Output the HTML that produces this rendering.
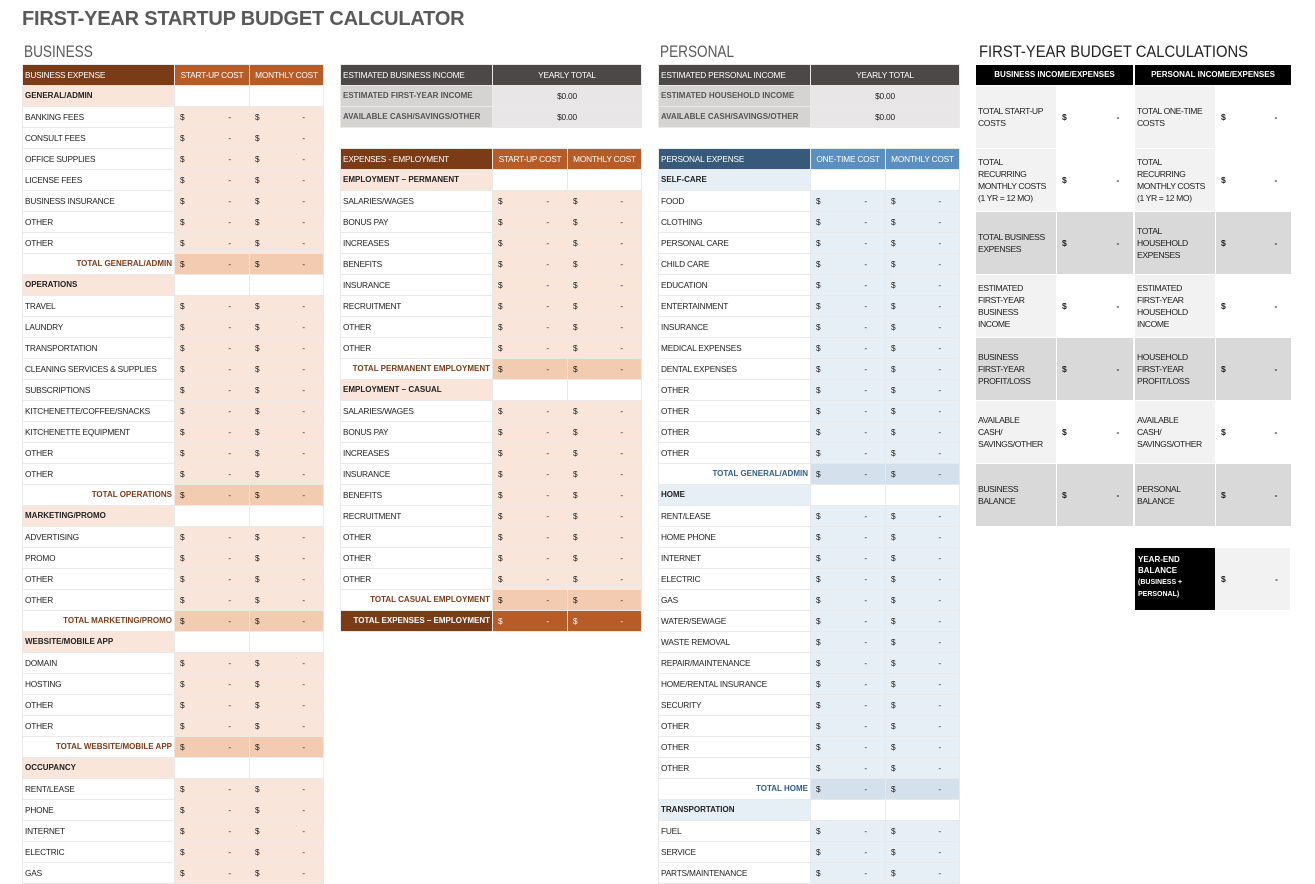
<!DOCTYPE html>
<html><head><meta charset="utf-8"><style>
body{margin:0;width:1315px;height:874px;overflow:hidden;background:#fff;position:relative;font-family:"Liberation Sans",sans-serif}
.ttl{position:absolute;font-weight:bold;color:#595959;font-size:20px;left:22px;top:8px;letter-spacing:-0.2px}
.h2{position:absolute;font-size:17px;color:#595959;top:42px;transform-origin:0 0}
table{position:absolute;border-collapse:collapse;table-layout:fixed;font-family:"Liberation Sans",sans-serif;font-size:8.3px;letter-spacing:-0.2px;color:#222}
td{height:20px;padding:0 2px;border:1px solid #e9e9e9;white-space:nowrap;overflow:hidden;line-height:20px}
td.v{padding-left:5px}
td.v em{font-style:normal;float:right;margin-right:16px}
tr.s td:first-child{font-weight:bold;font-size:8px;letter-spacing:0}
tr.tt td:first-child{font-weight:bold;font-size:8px;letter-spacing:0;text-align:right}
tr.h td{color:#fff}
tr.h td+td{text-align:center}
.b tr td.v{background:#f9e5da}
.b tr.s td:first-child{background:#f9e5da}
.b tr.tt td:first-child{color:#7b3b17}
.b tr.tt td.v{background:#f2cbb1}
.b tr.h td{background:#b85c27}
.b tr.h td:first-child{background:#7b3b17}
.b tr.x td{background:#b85c27;color:#fff}
.b tr.x td:first-child{background:#7b3b17;color:#fff}
.p tr td.v{background:#e6eef6}
.p tr.s td:first-child{background:#e6eef6}
.p tr.tt td:first-child{color:#2f5f8a}
.p tr.tt td.v{background:#d4e0ec}
.p tr.h td{background:#5b8fc1}
.p tr.h td:first-child{background:#375a7a}
.i tr.h td{background:#4d4848}
.i td{background:#e8e6e7;text-align:center}
.i td:first-child{background:#d6d3d3;text-align:left;font-weight:bold;font-size:8px;color:#555;letter-spacing:0}
.i tr.h td:first-child{background:#4d4848;color:#fff;font-weight:normal;font-size:8.3px;letter-spacing:-0.2px}
.c td{height:62px;line-height:12px;border:1px solid #fff;white-space:nowrap;vertical-align:middle;font-size:8.6px;letter-spacing:-0.4px}
.c tr.h td{height:20px;background:#000;color:#fff;font-weight:bold;font-size:8px;letter-spacing:0;text-align:center;line-height:20px}
.c td.l{background:#f2f2f2}
.c td.w{background:#fff;font-weight:bold}
.c tr.g td{background:#d9d9d9}
.c td.w em,.c tr.g td+td em{font-style:normal;float:right;margin-right:12px}
.c tr.g td+td{font-weight:bold;padding-left:5px}
.c td.w{padding-left:5px}
</style></head><body>
<div class="ttl">FIRST-YEAR STARTUP BUDGET CALCULATOR</div>
<div class="h2" style="left:24px;transform:scaleX(0.8)">BUSINESS</div>
<div class="h2" style="left:660px;transform:scaleX(0.8)">PERSONAL</div>
<div class="h2" style="left:979px;color:#222;transform:scaleX(0.87)">FIRST-YEAR BUDGET CALCULATIONS</div>

<table class="b" style="left:22px;top:64px;width:301px">
<col style="width:152px"><col style="width:75px"><col style="width:74px">
<tr class="h"><td>BUSINESS EXPENSE</td><td>START-UP COST</td><td>MONTHLY COST</td></tr>
<tr class="s"><td>GENERAL/ADMIN</td><td></td><td></td></tr>
<tr><td>BANKING FEES</td><td class="v">$<em>-</em></td><td class="v">$<em>-</em></td></tr>
<tr><td>CONSULT FEES</td><td class="v">$<em>-</em></td><td class="v">$<em>-</em></td></tr>
<tr><td>OFFICE SUPPLIES</td><td class="v">$<em>-</em></td><td class="v">$<em>-</em></td></tr>
<tr><td>LICENSE FEES</td><td class="v">$<em>-</em></td><td class="v">$<em>-</em></td></tr>
<tr><td>BUSINESS INSURANCE</td><td class="v">$<em>-</em></td><td class="v">$<em>-</em></td></tr>
<tr><td>OTHER</td><td class="v">$<em>-</em></td><td class="v">$<em>-</em></td></tr>
<tr><td>OTHER</td><td class="v">$<em>-</em></td><td class="v">$<em>-</em></td></tr>
<tr class="tt"><td>TOTAL GENERAL/ADMIN</td><td class="v">$<em>-</em></td><td class="v">$<em>-</em></td></tr>
<tr class="s"><td>OPERATIONS</td><td></td><td></td></tr>
<tr><td>TRAVEL</td><td class="v">$<em>-</em></td><td class="v">$<em>-</em></td></tr>
<tr><td>LAUNDRY</td><td class="v">$<em>-</em></td><td class="v">$<em>-</em></td></tr>
<tr><td>TRANSPORTATION</td><td class="v">$<em>-</em></td><td class="v">$<em>-</em></td></tr>
<tr><td>CLEANING SERVICES &amp; SUPPLIES</td><td class="v">$<em>-</em></td><td class="v">$<em>-</em></td></tr>
<tr><td>SUBSCRIPTIONS</td><td class="v">$<em>-</em></td><td class="v">$<em>-</em></td></tr>
<tr><td>KITCHENETTE/COFFEE/SNACKS</td><td class="v">$<em>-</em></td><td class="v">$<em>-</em></td></tr>
<tr><td>KITCHENETTE EQUIPMENT</td><td class="v">$<em>-</em></td><td class="v">$<em>-</em></td></tr>
<tr><td>OTHER</td><td class="v">$<em>-</em></td><td class="v">$<em>-</em></td></tr>
<tr><td>OTHER</td><td class="v">$<em>-</em></td><td class="v">$<em>-</em></td></tr>
<tr class="tt"><td>TOTAL OPERATIONS</td><td class="v">$<em>-</em></td><td class="v">$<em>-</em></td></tr>
<tr class="s"><td>MARKETING/PROMO</td><td></td><td></td></tr>
<tr><td>ADVERTISING</td><td class="v">$<em>-</em></td><td class="v">$<em>-</em></td></tr>
<tr><td>PROMO</td><td class="v">$<em>-</em></td><td class="v">$<em>-</em></td></tr>
<tr><td>OTHER</td><td class="v">$<em>-</em></td><td class="v">$<em>-</em></td></tr>
<tr><td>OTHER</td><td class="v">$<em>-</em></td><td class="v">$<em>-</em></td></tr>
<tr class="tt"><td>TOTAL MARKETING/PROMO</td><td class="v">$<em>-</em></td><td class="v">$<em>-</em></td></tr>
<tr class="s"><td>WEBSITE/MOBILE APP</td><td></td><td></td></tr>
<tr><td>DOMAIN</td><td class="v">$<em>-</em></td><td class="v">$<em>-</em></td></tr>
<tr><td>HOSTING</td><td class="v">$<em>-</em></td><td class="v">$<em>-</em></td></tr>
<tr><td>OTHER</td><td class="v">$<em>-</em></td><td class="v">$<em>-</em></td></tr>
<tr><td>OTHER</td><td class="v">$<em>-</em></td><td class="v">$<em>-</em></td></tr>
<tr class="tt"><td>TOTAL WEBSITE/MOBILE APP</td><td class="v">$<em>-</em></td><td class="v">$<em>-</em></td></tr>
<tr class="s"><td>OCCUPANCY</td><td></td><td></td></tr>
<tr><td>RENT/LEASE</td><td class="v">$<em>-</em></td><td class="v">$<em>-</em></td></tr>
<tr><td>PHONE</td><td class="v">$<em>-</em></td><td class="v">$<em>-</em></td></tr>
<tr><td>INTERNET</td><td class="v">$<em>-</em></td><td class="v">$<em>-</em></td></tr>
<tr><td>ELECTRIC</td><td class="v">$<em>-</em></td><td class="v">$<em>-</em></td></tr>
<tr><td>GAS</td><td class="v">$<em>-</em></td><td class="v">$<em>-</em></td></tr>
</table>

<table class="i" style="left:340px;top:64px;width:301px">
<col style="width:152px"><col style="width:149px">
<tr class="h"><td>ESTIMATED BUSINESS INCOME</td><td>YEARLY TOTAL</td></tr>
<tr><td>ESTIMATED FIRST-YEAR INCOME</td><td>$0.00</td></tr>
<tr><td>AVAILABLE CASH/SAVINGS/OTHER</td><td>$0.00</td></tr>
</table>

<table class="b" style="left:340px;top:148px;width:301px">
<col style="width:152px"><col style="width:75px"><col style="width:74px">
<tr class="h"><td>EXPENSES - EMPLOYMENT</td><td>START-UP COST</td><td>MONTHLY COST</td></tr>
<tr class="s"><td>EMPLOYMENT – PERMANENT</td><td></td><td></td></tr>
<tr><td>SALARIES/WAGES</td><td class="v">$<em>-</em></td><td class="v">$<em>-</em></td></tr>
<tr><td>BONUS PAY</td><td class="v">$<em>-</em></td><td class="v">$<em>-</em></td></tr>
<tr><td>INCREASES</td><td class="v">$<em>-</em></td><td class="v">$<em>-</em></td></tr>
<tr><td>BENEFITS</td><td class="v">$<em>-</em></td><td class="v">$<em>-</em></td></tr>
<tr><td>INSURANCE</td><td class="v">$<em>-</em></td><td class="v">$<em>-</em></td></tr>
<tr><td>RECRUITMENT</td><td class="v">$<em>-</em></td><td class="v">$<em>-</em></td></tr>
<tr><td>OTHER</td><td class="v">$<em>-</em></td><td class="v">$<em>-</em></td></tr>
<tr><td>OTHER</td><td class="v">$<em>-</em></td><td class="v">$<em>-</em></td></tr>
<tr class="tt"><td>TOTAL PERMANENT EMPLOYMENT</td><td class="v">$<em>-</em></td><td class="v">$<em>-</em></td></tr>
<tr class="s"><td>EMPLOYMENT – CASUAL</td><td></td><td></td></tr>
<tr><td>SALARIES/WAGES</td><td class="v">$<em>-</em></td><td class="v">$<em>-</em></td></tr>
<tr><td>BONUS PAY</td><td class="v">$<em>-</em></td><td class="v">$<em>-</em></td></tr>
<tr><td>INCREASES</td><td class="v">$<em>-</em></td><td class="v">$<em>-</em></td></tr>
<tr><td>INSURANCE</td><td class="v">$<em>-</em></td><td class="v">$<em>-</em></td></tr>
<tr><td>BENEFITS</td><td class="v">$<em>-</em></td><td class="v">$<em>-</em></td></tr>
<tr><td>RECRUITMENT</td><td class="v">$<em>-</em></td><td class="v">$<em>-</em></td></tr>
<tr><td>OTHER</td><td class="v">$<em>-</em></td><td class="v">$<em>-</em></td></tr>
<tr><td>OTHER</td><td class="v">$<em>-</em></td><td class="v">$<em>-</em></td></tr>
<tr><td>OTHER</td><td class="v">$<em>-</em></td><td class="v">$<em>-</em></td></tr>
<tr class="tt"><td>TOTAL CASUAL EMPLOYMENT</td><td class="v">$<em>-</em></td><td class="v">$<em>-</em></td></tr>
<tr class="tt x"><td style="color:#fff">TOTAL EXPENSES – EMPLOYMENT</td><td class="v" style="background:#b85c27">$<em>-</em></td><td class="v" style="background:#b85c27">$<em>-</em></td></tr>
</table>

<table class="i" style="left:658px;top:64px;width:301px">
<col style="width:152px"><col style="width:149px">
<tr class="h"><td>ESTIMATED PERSONAL INCOME</td><td>YEARLY TOTAL</td></tr>
<tr><td>ESTIMATED HOUSEHOLD INCOME</td><td>$0.00</td></tr>
<tr><td>AVAILABLE CASH/SAVINGS/OTHER</td><td>$0.00</td></tr>
</table>

<table class="p" style="left:658px;top:148px;width:301px">
<col style="width:152px"><col style="width:75px"><col style="width:74px">
<tr class="h"><td>PERSONAL EXPENSE</td><td>ONE-TIME COST</td><td>MONTHLY COST</td></tr>
<tr class="s"><td>SELF-CARE</td><td></td><td></td></tr>
<tr><td>FOOD</td><td class="v">$<em>-</em></td><td class="v">$<em>-</em></td></tr>
<tr><td>CLOTHING</td><td class="v">$<em>-</em></td><td class="v">$<em>-</em></td></tr>
<tr><td>PERSONAL CARE</td><td class="v">$<em>-</em></td><td class="v">$<em>-</em></td></tr>
<tr><td>CHILD CARE</td><td class="v">$<em>-</em></td><td class="v">$<em>-</em></td></tr>
<tr><td>EDUCATION</td><td class="v">$<em>-</em></td><td class="v">$<em>-</em></td></tr>
<tr><td>ENTERTAINMENT</td><td class="v">$<em>-</em></td><td class="v">$<em>-</em></td></tr>
<tr><td>INSURANCE</td><td class="v">$<em>-</em></td><td class="v">$<em>-</em></td></tr>
<tr><td>MEDICAL EXPENSES</td><td class="v">$<em>-</em></td><td class="v">$<em>-</em></td></tr>
<tr><td>DENTAL EXPENSES</td><td class="v">$<em>-</em></td><td class="v">$<em>-</em></td></tr>
<tr><td>OTHER</td><td class="v">$<em>-</em></td><td class="v">$<em>-</em></td></tr>
<tr><td>OTHER</td><td class="v">$<em>-</em></td><td class="v">$<em>-</em></td></tr>
<tr><td>OTHER</td><td class="v">$<em>-</em></td><td class="v">$<em>-</em></td></tr>
<tr><td>OTHER</td><td class="v">$<em>-</em></td><td class="v">$<em>-</em></td></tr>
<tr class="tt"><td>TOTAL GENERAL/ADMIN</td><td class="v">$<em>-</em></td><td class="v">$<em>-</em></td></tr>
<tr class="s"><td>HOME</td><td></td><td></td></tr>
<tr><td>RENT/LEASE</td><td class="v">$<em>-</em></td><td class="v">$<em>-</em></td></tr>
<tr><td>HOME PHONE</td><td class="v">$<em>-</em></td><td class="v">$<em>-</em></td></tr>
<tr><td>INTERNET</td><td class="v">$<em>-</em></td><td class="v">$<em>-</em></td></tr>
<tr><td>ELECTRIC</td><td class="v">$<em>-</em></td><td class="v">$<em>-</em></td></tr>
<tr><td>GAS</td><td class="v">$<em>-</em></td><td class="v">$<em>-</em></td></tr>
<tr><td>WATER/SEWAGE</td><td class="v">$<em>-</em></td><td class="v">$<em>-</em></td></tr>
<tr><td>WASTE REMOVAL</td><td class="v">$<em>-</em></td><td class="v">$<em>-</em></td></tr>
<tr><td>REPAIR/MAINTENANCE</td><td class="v">$<em>-</em></td><td class="v">$<em>-</em></td></tr>
<tr><td>HOME/RENTAL INSURANCE</td><td class="v">$<em>-</em></td><td class="v">$<em>-</em></td></tr>
<tr><td>SECURITY</td><td class="v">$<em>-</em></td><td class="v">$<em>-</em></td></tr>
<tr><td>OTHER</td><td class="v">$<em>-</em></td><td class="v">$<em>-</em></td></tr>
<tr><td>OTHER</td><td class="v">$<em>-</em></td><td class="v">$<em>-</em></td></tr>
<tr><td>OTHER</td><td class="v">$<em>-</em></td><td class="v">$<em>-</em></td></tr>
<tr class="tt"><td>TOTAL HOME</td><td class="v">$<em>-</em></td><td class="v">$<em>-</em></td></tr>
<tr class="s"><td>TRANSPORTATION</td><td></td><td></td></tr>
<tr><td>FUEL</td><td class="v">$<em>-</em></td><td class="v">$<em>-</em></td></tr>
<tr><td>SERVICE</td><td class="v">$<em>-</em></td><td class="v">$<em>-</em></td></tr>
<tr><td>PARTS/MAINTENANCE</td><td class="v">$<em>-</em></td><td class="v">$<em>-</em></td></tr>
</table>

<table class="c" style="left:975px;top:64px;width:158px">
<col style="width:81px"><col style="width:77px">
<tr class="h"><td colspan="2">BUSINESS INCOME/EXPENSES</td></tr>
<tr><td class="l">TOTAL START-UP<br>COSTS</td><td class="w">$<em>-</em></td></tr>
<tr><td class="l">TOTAL<br>RECURRING<br>MONTHLY COSTS<br>(1 YR = 12 MO)</td><td class="w">$<em>-</em></td></tr>
<tr class="g"><td>TOTAL BUSINESS<br>EXPENSES</td><td>$<em>-</em></td></tr>
<tr><td class="l">ESTIMATED<br>FIRST-YEAR<br>BUSINESS<br>INCOME</td><td class="w">$<em>-</em></td></tr>
<tr class="g"><td>BUSINESS<br>FIRST-YEAR<br>PROFIT/LOSS</td><td>$<em>-</em></td></tr>
<tr><td class="l">AVAILABLE<br>CASH/<br>SAVINGS/OTHER</td><td class="w">$<em>-</em></td></tr>
<tr class="g"><td>BUSINESS<br>BALANCE</td><td>$<em>-</em></td></tr>
</table>

<table class="c" style="left:1134px;top:64px;width:157px">
<col style="width:81px"><col style="width:76px">
<tr class="h"><td colspan="2">PERSONAL INCOME/EXPENSES</td></tr>
<tr><td class="l">TOTAL ONE-TIME<br>COSTS</td><td class="w">$<em>-</em></td></tr>
<tr><td class="l">TOTAL<br>RECURRING<br>MONTHLY COSTS<br>(1 YR = 12 MO)</td><td class="w">$<em>-</em></td></tr>
<tr class="g"><td>TOTAL<br>HOUSEHOLD<br>EXPENSES</td><td>$<em>-</em></td></tr>
<tr><td class="l">ESTIMATED<br>FIRST-YEAR<br>HOUSEHOLD<br>INCOME</td><td class="w">$<em>-</em></td></tr>
<tr class="g"><td>HOUSEHOLD<br>FIRST-YEAR<br>PROFIT/LOSS</td><td>$<em>-</em></td></tr>
<tr><td class="l">AVAILABLE<br>CASH/<br>SAVINGS/OTHER</td><td class="w">$<em>-</em></td></tr>
<tr class="g"><td>PERSONAL<br>BALANCE</td><td>$<em>-</em></td></tr>
</table>

<div style="position:absolute;left:1135px;top:548px;height:62px;background:#000;color:#fff;font-weight:bold;font-size:8px;line-height:11px;padding:6px 0 0 3px;box-sizing:border-box;width:80px">YEAR-END<br>BALANCE<br><span style="font-size:7px">(BUSINESS +<br>PERSONAL)</span></div>
<div style="position:absolute;left:1215px;top:548px;width:75px;height:62px;background:#f2f2f2;font-size:8.5px;font-weight:bold;line-height:62px;color:#222"><span style="margin-left:6px">$</span><span style="float:right;margin-right:12px">-</span></div>
</body></html>
